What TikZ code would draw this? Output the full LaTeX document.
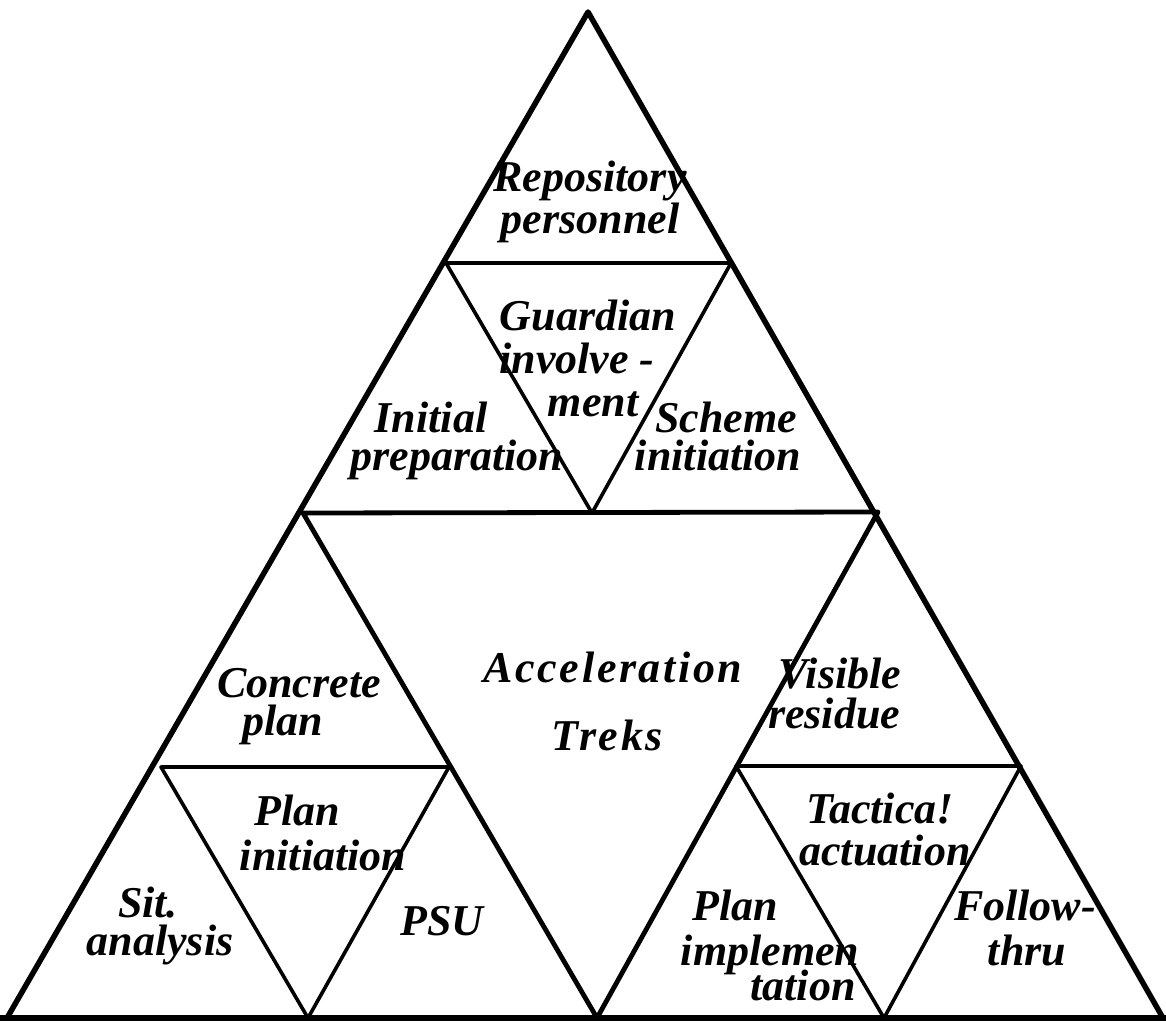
\documentclass[tikz,border=0pt]{standalone}
\usepackage{fontspec}
\setmainfont{Liberation Serif}
\begin{document}
\begin{tikzpicture}[x=1pt,y=-1pt,
 outer/.style={line width=5.5pt,line join=round,line cap=round},
 middle/.style={line width=4.8pt,line join=round,line cap=round},
 inner/.style={line width=3.6pt,line join=round,line cap=round},
 baseline/.style={line width=6pt},
 lbl/.style={anchor=base,inner sep=0pt,font=\fontsize{44}{44}\selectfont\bfseries\itshape},
 spaced/.style={lbl,font=\fontsize{44}{44}\selectfont\bfseries\itshape\addfontfeature{LetterSpace=6}}]
\useasboundingbox (0,0) rectangle (1166,1027);
% main vertices
\coordinate (A) at (588,12);
\coordinate (L) at (7,1018);
\coordinate (R) at (1163,1018);
\coordinate (ML) at (303,513);
\coordinate (MR) at (878,512);
\coordinate (MB) at (597,1018);
\coordinate (E0) at (0,1018);
\coordinate (E1) at (1166,1018);
% top sub-triangle
\coordinate (T1) at (446,263);
\coordinate (T2) at (731,263);
\coordinate (T3) at (592,513);
% bottom-left sub-triangle
\coordinate (B1) at (161,767);
\coordinate (B2) at (449,767);
\coordinate (B3) at (308,1018);
% bottom-right sub-triangle
\coordinate (C1) at (736,766);
\coordinate (C2) at (1021,766);
\coordinate (C3) at (884,1018);

\draw[outer] (L) -- (A) -- (R);
\draw[baseline] (E0) -- (E1);
\draw[middle] (ML) -- (MR) -- (MB) -- cycle;
\draw[inner] (T1) -- (T2) -- (T3) -- cycle;
\draw[inner] (B1) -- (B2) -- (B3) -- cycle;
\draw[inner] (C1) -- (C2) -- (C3) -- cycle;

% labels
\node[lbl] (rep1) at (590,192) {Repository};
\node[lbl] (rep2) at (590,233) {personnel};
\node[lbl] (gua1) at (588,330) {Guardian};
\node[lbl] (gua2) at (577,373) {involve -};
\node[lbl] (gua3) at (593,416) {ment};
\node[lbl] (ini1) at (431,432) {Initial};
\node[lbl] (ini2) at (457,470) {preparation};
\node[lbl] (sch1) at (726,432) {Scheme};
\node[lbl] (sch2) at (718,470) {initiation};
\node[spaced] (acc1) at (613,682) {Acceleration};
\node[spaced] (acc2) at (607,750) {Treks};
\node[lbl] (vis1) at (840,688) {Visible};
\node[lbl] (vis2) at (834,728) {residue};
\node[lbl] (con1) at (299,697) {Concrete};
\node[lbl] (con2) at (283,735) {plan};
\node[lbl] (pli1) at (297,825) {Plan};
\node[lbl] (pli2) at (323,870) {initiation};
\node[lbl] (sit1) at (148,917) {Sit.};
\node[lbl] (sit2) at (160,955) {analysis};
\node[lbl] (psu) at (442,935) {PSU};
\node[lbl] (tac1) at (880,823) {Tactica!};
\node[lbl] (tac2) at (885,865) {actuation};
\node[lbl] (pim1) at (735,920) {Plan};
\node[lbl] (pim2) at (770,965) {implemen};
\node[lbl] (pim3) at (803,1000) {tation};
\node[lbl] (fol1) at (1025,920) {Follow-};
\node[lbl] (fol2) at (1027,965) {thru};
\end{tikzpicture}
\end{document}
